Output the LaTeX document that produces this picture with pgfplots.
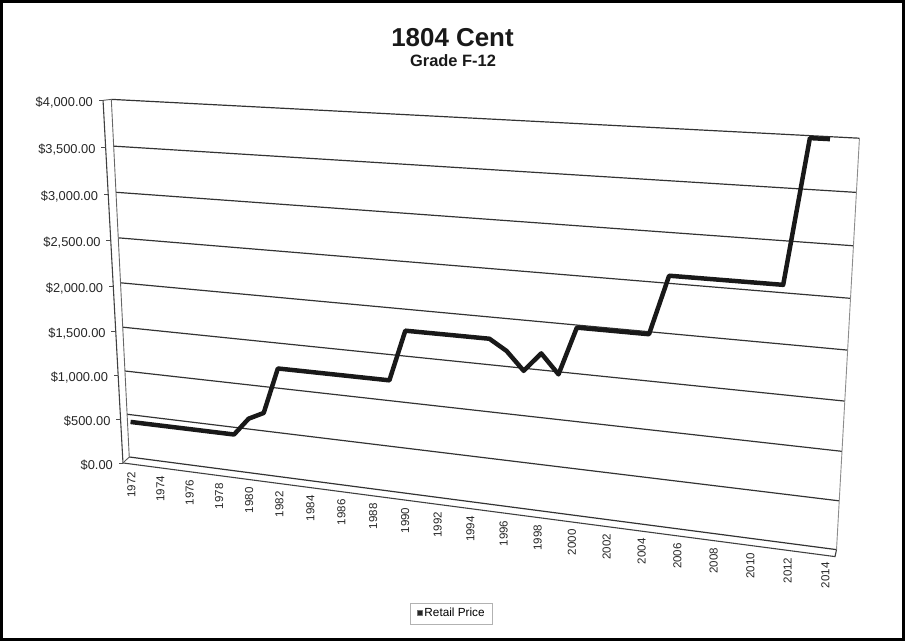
\documentclass[border=0pt]{standalone}
\usepackage{pgfplots}
\pgfplotsset{compat=1.18}
\usepackage{pgfplotstable}
\usepackage{fontspec}
\setmainfont{Liberation Sans}

\pgfplotstableread{
year price
1972 450
1973 450
1974 450
1975 450
1976 450
1977 450
1978 450
1979 450
1980 650
1981 735
1982 1250
1983 1250
1984 1250
1985 1250
1986 1250
1987 1250
1988 1250
1989 1250
1990 1800
1991 1800
1992 1800
1993 1800
1994 1800
1995 1800
1996 1690
1997 1500
1998 1700
1999 1500
2000 2000
2001 2000
2002 2000
2003 2000
2004 2000
2005 2600
2006 2600
2007 2600
2008 2600
2009 2600
2010 2600
2011 2600
2012 4000
2013 4000
}\pricedata

\pgfplotstableread{
u w
0 0
1 0
}\gridtab

\pgfplotstableread{
val w
0 0
500 0
1000 0
1500 0
2000 0
2500 0
3000 0
3500 0
4000 0
}\ylabs

\pgfplotstableread{
year w
1972 0
1974 0
1976 0
1978 0
1980 0
1982 0
1984 0
1986 0
1988 0
1990 0
1992 0
1994 0
1996 0
1998 0
2000 0
2002 0
2004 0
2006 0
2008 0
2010 0
2012 0
2014 0
}\xlabs

\pgfplotstableread{
x y
101.7 541
110 542
}\walltop
\pgfplotstableread{
x y
101.7 541
121.7 177
836.5 83
838 90
}\frontedge
\pgfplotstableread{
x y
121.7 177
128 183
}\cornerbl

\begin{document}
\begin{tikzpicture}[
  declare function={
    DN(\uu,\vv)=1-0.13551*\uu-0.050444*\vv;
    PX(\uu,\vv)=(596.44*\uu-23.549*\vv+128)/DN(\uu,\vv);
    PY(\uu,\vv)=640-(18.47*\uu-363.94*\vv+457)/DN(\uu,\vv);
  }]
\begin{axis}[
  x=1pt, y=1pt,
  xmin=0, xmax=905, ymin=0, ymax=640,
  axis line style={line width=3.5pt, black},
  xtick=\empty, ytick=\empty,
  clip=false,
  /pgf/number format/assume math mode=true,
  legend style={at={(0.4991,0.0406)}, anchor=center, draw=black!30, line width=0.7pt,
    font=\fontsize{11.8}{13}\selectfont, inner xsep=6pt, inner ysep=3.5pt},
  legend image code/.code={\fill[black!85,draw=black!55,line width=0.5pt] (1pt,-1.6pt) rectangle (6.2pt,3.6pt);},
]
% back wall gridlines
\pgfplotsinvokeforeach{0,500,...,4000}{
  \addplot[forget plot, line width=1.2pt, color=black!80]
    table[x expr={PX(\thisrow{u},#1/4000)}, y expr={PY(\thisrow{u},#1/4000)}] {\gridtab};
}
% back wall left and right edges
\addplot[forget plot, line width=0.9pt, color=black!60]
  table[x expr={PX(0,\thisrow{u})}, y expr={PY(0,\thisrow{u})}] {\gridtab};
\addplot[forget plot, line width=0.9pt, color=black!45]
  table[x expr={PX(1,\thisrow{u})}, y expr={PY(1,\thisrow{u})}] {\gridtab};
% front edges of the side wall and floor
\addplot[forget plot, line width=0.9pt, color=black!65] table[x=x,y=y] {\walltop};
\addplot[forget plot, line width=1.1pt, color=black!75] table[x=x,y=y] {\frontedge};
\addplot[forget plot, line width=0.9pt, color=black!65] table[x=x,y=y] {\cornerbl};
% y ticks on the front edge
\addplot[forget plot, only marks, mark=-, mark size=2.2pt, mark options={line width=0.8pt, black!70}]
  table[x expr={PX(0,\thisrow{val}/4000)-6.3-2*\thisrow{val}/4000-2.2},
        y expr={PY(0,\thisrow{val}/4000)-(6-5*\thisrow{val}/4000)}] {\ylabs};
% y labels
\addplot[forget plot, draw=none, point meta=explicit,
  nodes near coords={\$\pgfmathprintnumber[fixed,fixed zerofill,precision=2,1000 sep={,}]{\pgfplotspointmeta}},
  every node near coord/.append style={anchor=east, inner sep=0pt, font=\fontsize{12.9}{14}\selectfont, text=black!85}]
  table[x expr={PX(0,\thisrow{val}/4000)-6.3-2*\thisrow{val}/4000-10},
        y expr={PY(0,\thisrow{val}/4000)-(6-5*\thisrow{val}/4000)-2}, meta=val] {\ylabs};
% x labels
\addplot[forget plot, draw=none, point meta=explicit symbolic,
  nodes near coords,
  every node near coord/.append style={anchor=east, rotate=90, inner sep=0pt, font=\fontsize{11.6}{13}\selectfont, text=black!85}]
  table[x expr={PX((\thisrow{year}-1971.5)/43,0)-5+3.5*(\thisrow{year}-1971.5)/43},
        y expr={PY((\thisrow{year}-1971.5)/43,0)-14}, meta=year] {\xlabs};
% data
\addplot[line width=4.5pt, color=black!90, line join=round, line cap=butt]
  table[x expr={PX((\thisrow{year}-1971.5)/43,\thisrow{price}/4000)-4+5*(\thisrow{year}-1971.5)/43},
        y expr={PY((\thisrow{year}-1971.5)/43,\thisrow{price}/4000)-2.5}] {\pricedata};
\addlegendentry{Retail Price}
% titles
\node[font=\bfseries\fontsize{26}{30}\selectfont, text=black!90] at (axis cs:452.5,604) {1804 Cent};
\node[font=\bfseries\fontsize{16.5}{19}\selectfont, text=black!90] at (axis cs:453,581) {Grade F-12};
\end{axis}
\end{tikzpicture}
\end{document}
